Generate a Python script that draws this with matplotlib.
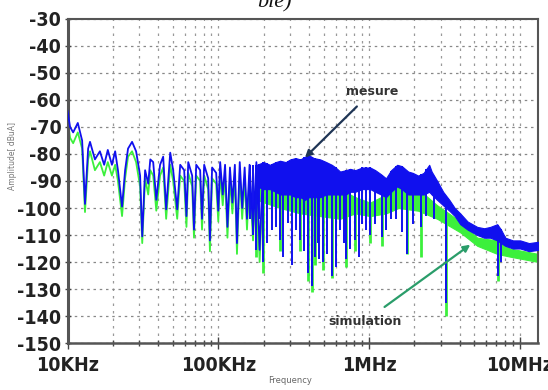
import matplotlib
matplotlib.use("Agg")
import matplotlib.pyplot as plt
import numpy as np
from matplotlib import font_manager as fm
from matplotlib.ticker import LogLocator, NullFormatter

# ---------------- data (frequencies in kHz, amplitudes in dBuA) ----------------
x_ticks_khz = [10, 100, 1000, 10000]
x_tick_labels = ["10KHz", "100KHz", "1MHz", "10MHz"]
y_ticks = [-30, -40, -50, -60, -70, -80, -90, -100, -110, -120, -130, -140, -150]

# low-frequency trace (distinct resonances)
mes_trace_f = [10.0, 10.4, 10.9, 11.7, 12.5, 13.06, 13.7, 14.1, 15.2, 16.4, 17.5, 18.5, 19.7, 20.7,
               21.6, 23.0, 24.1, 25.2, 26.8, 28.5, 30.3, 31.3, 32.7, 34.3, 35.4, 37.0, 38.8, 41.1,
               43.1, 45.1, 48.0, 50.2, 53.4, 55.9, 59.4, 61.5, 63.2, 67.1, 69.0, 71.4, 75.8, 78.0,
               80.6, 85.7, 88.0, 91.0, 96.8, 100.0, 102.9, 107.0, 110.9, 115.0, 119.5, 124.0,
               128.8, 133.0, 138.8, 144.0, 149.6, 155.0, 161.2, 170.0, 178.9, 188.0, 198.1]
mes_trace_db = [-64, -70, -72, -68.5, -75, -98.5, -78, -75.5, -82, -79, -84, -78.5, -84, -79,
                -86, -99.5, -86, -78, -75.5, -79, -88, -110.5, -86, -91, -82, -83, -97, -84,
                -81, -100.5, -79.5, -86, -100.5, -84, -86, -103, -83, -88, -108, -84, -86, -104,
                -84, -89, -112, -85, -87, -101, -83, -95, -84, -107, -85, -98,
                -84, -113, -83, -100, -85, -104, -84, -108, -83, -115.5, -85]

sim_trace_f = mes_trace_f
sim_trace_db = [-67, -74, -76, -72, -78, -101.5, -82, -79, -86, -83, -88, -83, -88, -84,
                -90, -103, -89, -81, -79, -83, -92, -113, -89, -95, -86, -88, -101, -88,
                -85, -104, -84, -90, -104, -88, -90, -107, -87, -92, -111, -88, -90, -108,
                -88, -93, -116, -89, -91, -105, -87, -99, -88, -111, -89, -102,
                -88, -117, -87, -104, -89, -108, -88, -112, -87, -120, -89]

# dense part of the spectrum: upper / lower envelope of the band
mes_band_f = [180, 200, 220, 240, 257, 280, 300, 325, 350, 375, 400, 430, 474, 520, 566, 600,
              643, 700, 750, 809, 900, 1017, 1100, 1200, 1295, 1400, 1536, 1650, 1818, 1950,
              2118, 2300, 2505, 2600, 2831, 3100, 3407, 3700, 4023, 4500, 5217, 5800, 6363,
              7080, 7500, 8000, 9000, 10060, 11500, 13250]
mes_band_top = [-84, -83, -84, -83, -82.5, -83, -82, -81.5, -82, -81, -80.5, -81.5, -82, -83,
                -84, -85, -86.5, -86, -85.5, -86, -85, -85, -86, -87.5, -89, -86, -84, -84.5,
                -86.5, -87, -88, -87, -84, -86.5, -90, -94, -97, -100, -102, -105, -107,
                -107.5, -107, -106, -108, -111, -112, -112, -113, -112.5]
mes_band_bot = [-92, -93, -93, -94, -95, -95, -95, -96, -96, -97, -96, -96, -96, -95, -95, -95,
                -95, -95, -94, -94, -93, -93, -94, -95, -96, -94, -92, -93, -95, -95, -95, -95,
                -94, -95, -97, -99, -101, -103, -106, -108, -110, -111, -111, -112, -113, -114,
                -115, -115, -116, -115.5]

sim_band_f = [180, 257, 350, 474, 643, 809, 1017, 1295, 1569, 2118, 2831, 4023, 5217, 7080,
              8570, 13250]
sim_band_top = [-88, -88, -90, -91, -93, -96, -98, -95, -92, -93, -99, -105, -111, -112,
                -115, -117]
sim_band_bot = [-97, -100, -102, -103, -104, -102, -103, -102, -100, -101, -104, -109, -114,
                -117, -118, -120]

# deep notches in the dense part
mes_spike_f = [162, 170, 179, 185, 198, 210, 227, 240, 257, 270, 290, 310, 330, 350, 370, 395,
               420, 440, 455, 466, 495, 530, 566, 600, 643, 680, 708, 750, 809, 860, 902, 950,
               1017, 1100, 1210, 1300, 1390, 1500, 1650, 1790, 1950, 2218, 2400, 2700, 3250,
               7160, 7450]
mes_spike_db = [-104, -110, -115.5, -104, -120, -113, -108, -107, -112, -118, -105.5, -121,
                -108, -112, -116, -124, -129, -118, -113, -119, -120, -117, -125, -122, -108,
                -113, -119, -115, -112, -118, -106, -108, -110, -106, -110.7, -108, -104, -104,
                -109, -117, -106, -107, -103, -104, -135, -125, -120]

sim_spike_f = [179, 198, 257, 350, 395, 420, 440, 495, 566, 708, 809, 1017, 1210, 1790, 2218,
               3250, 7160]
sim_spike_db = [-118, -124, -116, -116, -127, -131, -121, -123, -126, -122, -116, -113, -114,
                -117, -118, -140, -127]

# ---------------- fonts ----------------
def pick_tick_font():
    cands = []
    for f in fm.fontManager.ttflist:
        w = f.weight if isinstance(f.weight, int) else (700 if "bold" in str(f.weight) else 400)
        if w < 600 or f.style != "normal":
            continue
        if f.name == "Liberation Sans Narrow":
            cands.append((0, f.fname))
        elif f.name.startswith("DejaVu Sans") and str(f.stretch) in ("condensed", "semi-condensed") :
            cands.append((1, f.fname))
        elif "Condensed" in f.name or "Narrow" in f.name:
            cands.append((2, f.fname))
    if cands:
        cands.sort()
        return fm.FontProperties(fname=cands[0][1], size=14)
    return fm.FontProperties(family="Liberation Sans", weight="bold", size=14)

tick_fp = pick_tick_font()

# ---------------- figure ----------------
fig = plt.figure(figsize=(5.48, 3.90), dpi=100)
ax = fig.add_axes([0.1232, 0.1205, 0.8586, 0.8308])

BLUE = "#1010ee"
GREEN = "#3cf03c"

def khz(v):
    return np.asarray(v, dtype=float) * 1e3

def band_level_at(f_list, band_f, band_vals):
    return np.interp(np.log10(khz(f_list)), np.log10(khz(band_f)), band_vals)

# simulation (drawn first, underneath)
ax.fill_between(khz(sim_band_f), sim_band_bot, sim_band_top, color=GREEN, lw=0.8, zorder=2)
ax.vlines(khz(sim_spike_f), sim_spike_db, band_level_at(sim_spike_f, sim_band_f, sim_band_top),
          color=GREEN, lw=2.0, zorder=2)
ax.plot(khz(sim_trace_f), sim_trace_db, color=GREEN, lw=1.3, zorder=2)

# measurement
ax.fill_between(khz(mes_band_f), mes_band_bot, mes_band_top, color=BLUE, lw=0.8, zorder=3)
ax.vlines(khz(mes_spike_f), mes_spike_db, band_level_at(mes_spike_f, mes_band_f, mes_band_top),
          color=BLUE, lw=1.4, zorder=3)
ax.plot(khz(mes_trace_f), mes_trace_db, color=BLUE, lw=1.3, zorder=3)

# axes
ax.set_xscale("log")
ax.set_xlim(10e3, 13.2e6)
ax.set_ylim(-150, -30)
ax.set_xticks(khz(x_ticks_khz))
ax.set_xticklabels(x_tick_labels)
ax.xaxis.set_minor_locator(LogLocator(base=10, subs=np.arange(2, 10)))
ax.xaxis.set_minor_formatter(NullFormatter())
ax.set_yticks(y_ticks)
ax.set_yticklabels([str(v) for v in y_ticks])

for lab in ax.get_xticklabels() + ax.get_yticklabels():
    lab.set_fontproperties(tick_fp)
    lab.set_color("#222222")

ax.tick_params(axis="x", which="major", direction="inout", length=8, width=1, color="#444444", pad=5)
ax.tick_params(axis="x", which="minor", direction="inout", length=5, width=1, color="#444444")
ax.tick_params(axis="y", which="major", direction="inout", length=5, width=1, color="#444444", pad=2)

ax.grid(True, which="major", axis="y", color="#888888", lw=0.9, ls=(0, (2, 3)))
ax.grid(True, which="both", axis="x", color="#999999", lw=0.9, ls=(0, (2, 4)))
ax.set_axisbelow(True)

for s in ax.spines.values():
    s.set_color("#555555")
    s.set_linewidth(1.5)
ax.spines["left"].set_linewidth(2.2)
ax.spines["bottom"].set_linewidth(1.8)

# axis labels
fig.text(0.022, 0.60, "Amplitude[ dBuA]", rotation=90, ha="center", va="center",
         fontsize=5.5, color="#777777")
fig.text(0.53, 0.012, "Frequency", ha="center", va="bottom", fontsize=6, color="#666666")

# partially visible caption at the top (cut in the reference as well)
fig.text(0.5, 0.992, "ble)", ha="center", va="center", fontsize=16, style="italic",
         family="Liberation Serif", color="#111111")

# annotations
ax.annotate("mesure", xy=(376e3, -81.3), xytext=(1.05e6, -56.8), ha="center", va="center",
            fontsize=9, fontweight="bold", color="#333333",
            arrowprops=dict(arrowstyle="-|>", color="#1f3555", lw=1.6, shrinkA=6, shrinkB=0,
                            mutation_scale=10))
ax.annotate("simulation", xy=(4.69e6, -113.6), xytext=(0.94e6, -141.9), ha="center", va="center",
            fontsize=9, fontweight="bold", color="#333333",
            arrowprops=dict(arrowstyle="-|>", color="#2a9d6a", lw=1.6, shrinkA=6, shrinkB=0,
                            mutation_scale=10))

fig.savefig("out.png", dpi=100)
